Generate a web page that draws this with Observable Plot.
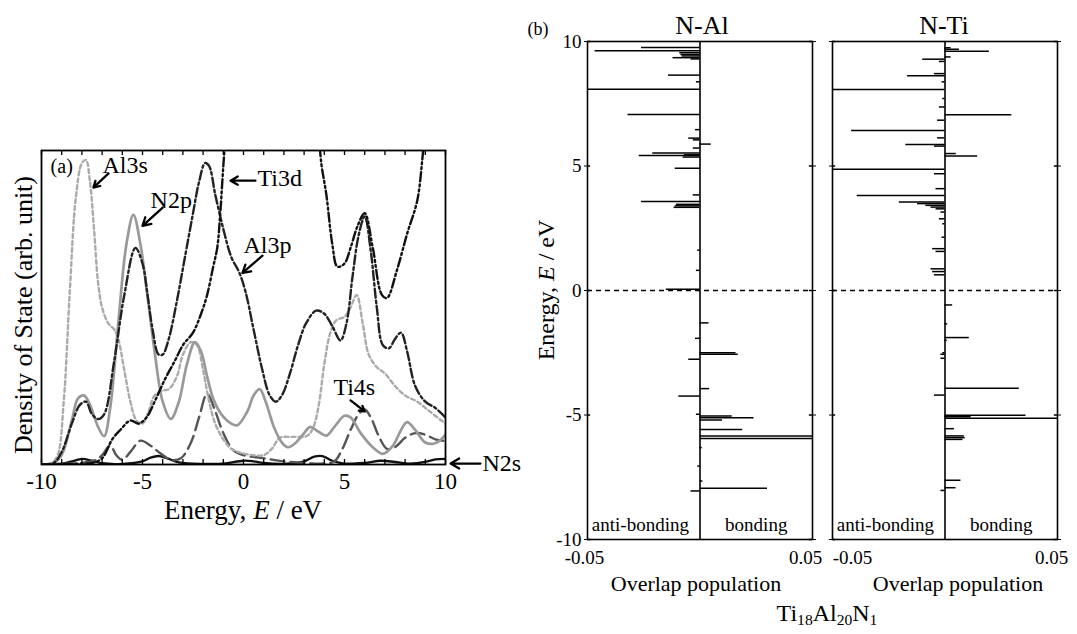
<!DOCTYPE html>
<html><head><meta charset="utf-8">
<script src="https://cdn.jsdelivr.net/npm/d3@7"></script>
<script src="https://cdn.jsdelivr.net/npm/@observablehq/plot@0.6"></script>
<style>
body{margin:0;background:#fff;}
#root{position:relative;width:1077px;height:634px;overflow:hidden;font-family:"Liberation Serif","Times New Roman",serif;color:#000;background:#fff;}
.abs{position:absolute;white-space:nowrap;line-height:1;}
.c{transform:translate(-50%,-50%);}
.r{transform:translate(-50%,-50%) rotate(-90deg);}
sub{font-size:65%;vertical-align:-0.25em;}
</style></head><body><div id="root"></div>
<script>
// ---------- Panel (a): partial density of states, [energy eV, DOS arb.] ----------
const al3s = [[-10,0],[-9.5,0.5],[-9.2,3],[-8.9,20],[-8.6,55],[-8.3,85],[-8.0,96],[-7.8,97],[-7.6,90],[-7.4,75],[-7.2,58],[-7.0,50],[-6.7,45],[-6.4,43],[-6.2,40],[-5.9,30],[-5.6,20],[-5.3,14],[-5.0,13],[-4.7,17],[-4.4,22],[-4.0,23.5],[-3.7,24],[-3.3,28],[-3.0,35],[-2.6,39],[-2.3,38],[-2.0,30],[-1.7,20],[-1.4,13],[-1.0,8],[-0.6,5],[0,3.5],[1,3],[1.4,5],[1.8,8.5],[2.4,8.8],[3.1,9],[3.4,11],[3.7,18],[4.0,32],[4.3,42],[4.6,46],[5.0,47],[5.3,50],[5.6,54],[5.9,45],[6.2,35],[6.6,31],[7.0,29],[7.5,25],[8.0,22],[8.6,20],[9.2,17],[9.8,14],[10,13]];
const n2p = [[-10,0],[-9.4,0.5],[-9.0,3],[-8.5,14],[-8.2,21],[-7.9,22],[-7.6,19],[-7.2,12],[-6.9,9],[-6.6,18],[-6.2,45],[-5.8,70],[-5.45,79.5],[-5.1,70],[-4.8,56],[-4.4,36],[-4.0,20],[-3.6,14.5],[-3.2,20],[-2.8,32],[-2.4,39],[-2.1,36],[-1.8,28],[-1.5,21],[-1.1,16],[-0.6,13],[-0.3,12.5],[0.2,17],[0.5,22],[0.8,24],[1.1,20],[1.5,12],[1.9,7],[2.2,5.5],[2.6,7],[3.0,10],[3.3,12],[3.7,10.5],[4.1,9.2],[4.5,12],[5.0,15.5],[5.3,15],[5.8,10],[6.4,5.5],[6.9,3.4],[7.4,6],[7.8,11],[8.1,13.5],[8.5,11],[9.0,7],[9.4,6.6],[9.7,7.5],[10,9.5]];
const ti3d = [[-10,0],[-8.5,0.2],[-7.5,0.5],[-7.0,2],[-6.5,8],[-6.1,11],[-5.6,14],[-5.2,13],[-4.8,15],[-4.4,20],[-3.9,27],[-3.4,33],[-3.0,38],[-2.5,42],[-2.1,48],[-1.8,54],[-1.5,63],[-1.3,69],[-1.15,80],[-1.0,95],[-0.85,108],[1.5,NaN],[3.7,108],[3.85,96],[4.1,86],[4.4,70],[4.65,63],[5.0,64],[5.3,69],[5.65,76],[6.0,80],[6.4,69],[6.85,54],[7.1,53],[7.6,62],[8.1,73.5],[8.6,84],[8.85,97],[9.0,108]];
const al3p = [[-10,0],[-9.4,0.5],[-9.0,4],[-8.5,13],[-8.1,19],[-7.8,20],[-7.5,16],[-7.2,14.5],[-6.9,16],[-6.4,33],[-5.9,54],[-5.35,69],[-5.0,64],[-4.75,54],[-4.5,43],[-4.2,35],[-4.0,35],[-3.7,40],[-3.3,52],[-2.9,66],[-2.5,80],[-2.2,90],[-1.9,96],[-1.7,95],[-1.4,86],[-1.0,75],[-0.6,66],[-0.2,61],[0.1,55],[0.5,43],[0.9,31],[1.3,22],[1.6,20],[1.9,22],[2.3,29],[2.7,38],[3.1,45],[3.6,49],[4.0,48],[4.4,44],[4.8,39.5],[5.1,45],[5.4,60],[5.7,73],[6.0,79],[6.3,68],[6.6,50],[6.9,38],[7.2,37],[7.5,40],[7.8,42],[8.1,36],[8.5,25],[9.0,20],[9.5,18],[10,15]];
const ti4s = [[-10,0],[-9,0.2],[-8,0.5],[-7.3,1.5],[-7.0,3],[-6.6,6],[-6.3,3],[-6.0,1.5],[-5.6,4],[-5.1,7.6],[-4.6,6],[-4.1,3.5],[-3.6,1.5],[-3.1,2],[-2.6,7],[-2.2,15],[-1.8,22.5],[-1.4,17],[-1.0,10],[-0.5,4.5],[0,3],[1,2],[2,1],[3,0.5],[4,0.3],[4.5,1],[4.9,5],[5.3,11],[5.7,16],[6.0,17.5],[6.3,15],[6.7,9],[7.1,5],[7.5,5.5],[8.0,8.5],[8.5,10],[9.0,9.5],[9.5,8],[10,7.5]];
const n2s = [[-10,0],[-9,0.3],[-8.5,1],[-8.0,1.8],[-7.5,1.2],[-7.0,0.4],[-6.0,0.2],[-5.0,1],[-4.6,2.2],[-4.2,2.7],[-3.8,2],[-3.2,0.7],[-2,0.2],[-1,0.3],[0,1.2],[0.5,1],[1,0.5],[2,0.2],[3,1],[3.5,2.5],[3.9,2.7],[4.4,1.2],[5,0.3],[6,0.5],[6.8,1.2],[7.5,0.8],[8.2,0.3],[9,0.8],[9.5,1.6],[10,1.8]];

const xTicksA = [-10, -5, 0, 5, 10];
const minorTicksA = d3.range(-10, 11, 1);

// annotations (text position, arrow tail, arrow tip) in data units
const annoLabels = ["Al3s", "N2p", "Ti3d", "Al3p", "Ti4s", "N2s"];
const annoTextE  = [-6.98, -4.6, 0.69, 0.0, 4.45, 11.83];
const annoTextD  = [95.2, 84, 91, 69.7, 24.5, 0.3];
const arrowFromE = [-6.68, -4.0, 0.59, 0.94, 5.3, 11.73];
const arrowFromD = [92.7, 81.8, 90.4, 66.5, 20.4, 0.3];
const arrowToE   = [-7.43, -5.0, -0.64, -0.05, 6.0, 10.25];
const arrowToD   = [88.2, 76, 90.4, 61, 16.9, 0.3];

// ---------- Panel (b): overlap population bars, [energy eV, overlap] ----------
const nAlBars = [[9.76,-0.026],[9.63,-0.0466],[9.55,-0.009],[9.48,-0.0085],[9.42,-0.008],[9.35,-0.012],[9.3,-0.004],[8.65,-0.014],[8.38,-0.0016],[8.08,-0.05],[7.07,-0.032],[6.46,-0.002],[6.12,-0.005],[6.05,-0.003],[5.88,0.005],[5.72,-0.003],[5.52,-0.021],[5.45,-0.007],[5.42,-0.027],[5.36,-0.0075],[4.91,-0.011],[3.84,-0.003],[3.57,-0.026],[3.46,-0.0105],[3.4,-0.011],[3.34,-0.0115],[1.62,-0.001],[0.81,-0.0016],[0.05,-0.015],[-1.3,0.004],[-1.92,-0.002],[-2.5,0.016],[-2.56,0.017],[-2.76,-0.005],[-3.94,0.0043],[-4.24,-0.0094],[-4.97,-0.0016],[-5.04,0.0143],[-5.11,0.024],[-5.2,0.01],[-5.58,0.019],[-5.84,0.05],[-5.94,0.05],[-6.31,0.001],[-7.05,-0.001],[-7.65,0.0013],[-7.94,0.03],[-8.05,-0.004]];
const nTiBars = [[9.75,0.0027],[9.69,0.0064],[9.61,0.0197],[9.38,0.0027],[9.29,-0.0099],[9.2,-0.0025],[8.71,-0.0047],[8.62,-0.0166],[8.38,-0.0013],[8.07,-0.05],[7.71,-0.001],[7.37,-0.0025],[7.06,0.0297],[6.84,-0.0033],[6.43,-0.0415],[6.13,-0.0033],[5.86,-0.0174],[5.8,-0.0047],[5.5,0.005],[5.4,0.0145],[4.87,-0.05],[4.69,-0.0047],[4.09,-0.004],[3.82,-0.039],[3.55,-0.0203],[3.49,-0.0122],[3.42,-0.0085],[3.35,-0.0062],[3.28,-0.004],[3.15,-0.0018],[2.88,-0.0025],[2.68,-0.001],[2.14,-0.0013],[1.68,-0.0055],[1.57,-0.004],[0.87,-0.0062],[0.76,-0.0055],[0.63,-0.0047],[-0.58,0.0034],[-1.34,0.0012],[-1.89,0.0108],[-2.0,0.001],[-2.5,-0.001],[-2.56,-0.0018],[-2.72,-0.0018],[-3.93,0.033],[-4.2,-0.0047],[-5.01,0.036],[-5.07,0.0116],[-5.13,0.05],[-5.55,0.0042],[-5.84,0.0086],[-5.91,0.009],[-5.98,0.008],[-7.62,0.0071],[-7.92,0.0049],[-8.03,-0.0018]];
const yTicksB = [-10, -5, 0, 5, 10];
const xTicksB = [-0.05, 0.05];
const sideLabels = ["anti-bonding", "bonding"];
const sideLabelX = [-0.0265, 0.025];
const sideLabelE = -9.42;

const FONT = '"Liberation Serif","Times New Roman",serif';
const root = document.getElementById("root");
function place(el, left, top) { el.style.position = "absolute"; el.style.left = left + "px"; el.style.top = top + "px"; root.appendChild(el); }
function label(html, x, y, size, cls) { const d = document.createElement("div"); d.className = "abs " + (cls || "c"); d.innerHTML = html; d.style.left = x + "px"; d.style.top = y + "px"; d.style.fontSize = size + "px"; root.appendChild(d); }

const series = [
  {name: "N2s", pts: n2s, stroke: "#111", strokeWidth: 2.3, strokeDasharray: null},
  {name: "Ti4s", pts: ti4s, stroke: "#555", strokeWidth: 2.4, strokeDasharray: "14,6"},
  {name: "Al3s", pts: al3s, stroke: "#ababab", strokeWidth: 2.4, strokeDasharray: "4,3"},
  {name: "N2p", pts: n2p, stroke: "#999", strokeWidth: 2.7, strokeDasharray: null},
  {name: "Al3p", pts: al3p, stroke: "#222", strokeWidth: 2.4, strokeDasharray: "9,3,2.5,3"},
  {name: "Ti3d", pts: ti3d, stroke: "#111", strokeWidth: 2.4, strokeDasharray: "9,3,2,3,2,3"}
];
const idx = d3.range(annoLabels.length);

const plotA = Plot.plot({
  width: 530, height: 560,
  marginLeft: 41, marginRight: 85, marginTop: 150, marginBottom: 96,
  x: {domain: [-10, 10]},
  y: {domain: [0, 100], axis: null},
  style: {fontFamily: FONT, fontSize: "23px", background: "transparent", color: "black"},
  marks: [
    ...series.map(s => Plot.line(s.pts, {x: d => d[0], y: d => d[1], curve: "catmull-rom", clip: true,
      stroke: s.stroke, strokeWidth: s.strokeWidth, strokeDasharray: s.strokeDasharray})),
    Plot.ruleX(minorTicksA, {y1: 0, y2: 1.6, strokeWidth: 1.3}),
    Plot.ruleX(minorTicksA, {y1: 98.4, y2: 100, strokeWidth: 1.3}),
    Plot.frame({stroke: "black", strokeWidth: 1.8}),
    Plot.axisX({ticks: xTicksA, tickSize: 0, tickPadding: 8, tickFormat: d => String(d), fontSize: 23, label: null}),
    Plot.arrow(idx, {x1: i => arrowFromE[i], y1: i => arrowFromD[i], x2: i => arrowToE[i], y2: i => arrowToD[i],
      stroke: "black", strokeWidth: 2.3, headLength: 10}),
    Plot.text(idx, {x: i => annoTextE[i], y: i => annoTextD[i], text: i => annoLabels[i], textAnchor: "start", fontSize: 24, fill: "black"}),
    Plot.text(["(a)"], {x: -9.55, y: 95, textAnchor: "start", fontSize: 20, fill: "black"})
  ]
});
place(plotA, 0, 0);

function bondPanel(bars, opt) {
  return Plot.plot({
    width: opt.width, height: 600,
    marginLeft: opt.ml, marginRight: opt.mr, marginTop: 41, marginBottom: 61,
    x: {domain: [-0.05, 0.05]},
    y: {domain: [-10, 10]},
    style: {fontFamily: FONT, fontSize: "19px", background: "transparent", color: "black"},
    marks: [
      Plot.ruleY([0], {strokeDasharray: "5,4", strokeWidth: 1.6}),
      Plot.ruleX([0], {strokeWidth: 1.6}),
      Plot.ruleY(bars, {y: d => d[0], x1: 0, x2: d => d[1], strokeWidth: 1.5}),
      Plot.ruleY(yTicksB, {x1: -0.05, x2: -0.0486, strokeWidth: 1.5}),
      Plot.ruleY(yTicksB, {x1: 0.0486, x2: 0.05, strokeWidth: 1.5}),
      Plot.frame({strokeWidth: 1.6}),
      Plot.axisY({anchor: "left", ticks: yTicksB, tickSize: 3, tickPadding: 3, tickFormat: opt.showY ? (d => String(d)) : (() => ""), fontSize: 19, label: null}),
      Plot.axisY({anchor: "right", ticks: yTicksB, tickSize: 3, tickFormat: () => "", label: null}),
      Plot.axisX({ticks: [xTicksB[0]], tickSize: 0, tickPadding: 11, dx: opt.dxL, tickFormat: d => String(d), fontSize: 19, label: null}),
      Plot.axisX({ticks: [xTicksB[1]], tickSize: 0, tickPadding: 11, dx: opt.dxR, tickFormat: d => String(d), fontSize: 19, label: null}),
      Plot.text(sideLabels, {x: (d, i) => sideLabelX[i], y: sideLabelE, text: d => d, fontSize: 19, fill: "black"})
    ]
  });
}
place(bondPanel(nAlBars, {width: 300, ml: 57, mr: 18, showY: true, dxL: -3, dxR: -7}), 530, 0);
place(bondPanel(nTiBars, {width: 277, ml: 32, mr: 20, showY: false, dxL: 20, dxR: -6}), 800, 0);

// HTML labels
label("Density of State (arb. unit)", 24, 315, 26, "r");
label("Energy, <i>E</i> / eV", 243, 510, 27);
label("N-Al", 702, 26, 26);
label("N-Ti", 944, 26, 26);
label("(b)", 538, 29, 18);
label("Energy, <i>E</i> / eV", 546, 290, 24, "r");
label("Overlap population", 696, 584, 22);
label("Overlap population", 958, 584, 22);
label("Ti<sub>18</sub>Al<sub>20</sub>N<sub>1</sub>", 827, 614, 24);
</script></body></html>
